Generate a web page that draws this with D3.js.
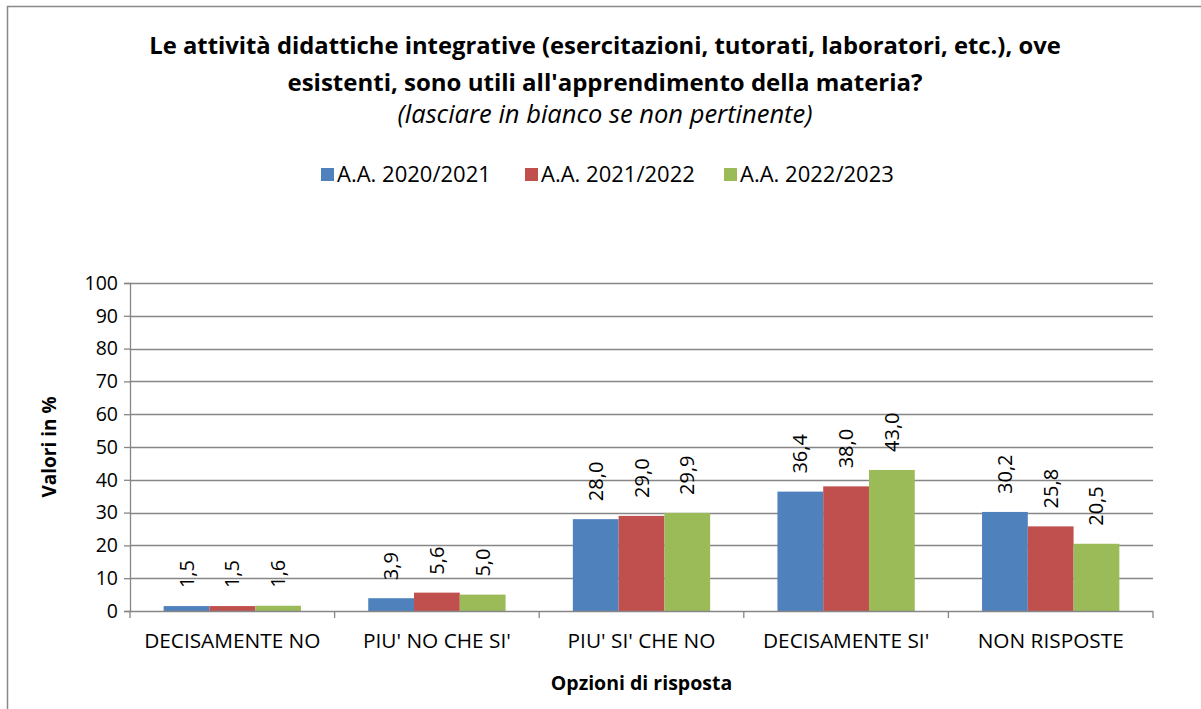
<!DOCTYPE html>
<html>
<head>
<meta charset="utf-8">
<script src="https://cdn.jsdelivr.net/npm/d3@7"></script>
<style>
  body { margin:0; background:#fff; }
  svg text { font-family: "Open Sans", sans-serif; fill:#000; }
</style>
</head>
<body>
<div id="chart"></div>
<script>
const categories = ["DECISAMENTE NO", "PIU' NO CHE SI'", "PIU' SI' CHE NO", "DECISAMENTE SI'", "NON RISPOSTE"];
const seriesNames = ["A.A. 2020/2021", "A.A. 2021/2022", "A.A. 2022/2023"];
const values2021 = [1.5, 3.9, 28.0, 36.4, 30.2];
const values2022 = [1.5, 5.6, 29.0, 38.0, 25.8];
const values2023 = [1.6, 5.0, 29.9, 43.0, 20.5];
const yTicks = [0, 10, 20, 30, 40, 50, 60, 70, 80, 90, 100];
const colors = ["#4F81BD", "#C0504D", "#9BBB59"];

const W = 1201, H = 709;
const plot = {left:130, right:1153, top:283, bottom:611};
const fontFam = '"Open Sans", sans-serif';

const svg = d3.select("#chart").append("svg")
  .attr("width", W).attr("height", H);

svg.append("rect")
  .attr("x", 7.5).attr("y", 6.5)
  .attr("width", W).attr("height", H)
  .attr("fill", "#fff").attr("stroke", "#898989").attr("stroke-width", 1.5);

// titles
svg.append("text").attr("x", 605).attr("y", 54).attr("text-anchor", "middle")
  .style("font-size", "23.8px").style("font-weight", "bold")
  .text("Le attività didattiche integrative (esercitazioni, tutorati, laboratori, etc.), ove");
svg.append("text").attr("x", 605).attr("y", 91).attr("text-anchor", "middle")
  .style("font-size", "24px").style("font-weight", "bold")
  .text("esistenti, sono utili all'apprendimento della materia?");
svg.append("text").attr("x", 605).attr("y", 123).attr("text-anchor", "middle")
  .style("font-size", "25.5px").style("font-style", "italic")
  .text("(lasciare in bianco se non pertinente)");

// legend
const legendX = [321, 525, 724];
const legend = svg.append("g");
seriesNames.forEach((name, i) => {
  legend.append("rect").attr("x", legendX[i]).attr("y", 168)
    .attr("width", 13).attr("height", 13).attr("fill", colors[i]);
  legend.append("text").attr("x", legendX[i] + 16).attr("y", 182)
    .style("font-size", "22px").text(name);
});

const x0 = d3.scaleBand().domain(categories).range([plot.left, plot.right]).paddingInner(0).paddingOuter(0);
const x1 = d3.scaleBand().domain(seriesNames).range([0, x0.bandwidth()]).paddingOuter(0.735).paddingInner(0);
const y = d3.scaleLinear().domain([0, 100]).range([plot.bottom, plot.top]);

// gridlines
svg.append("g").selectAll("line").data(yTicks.filter(d => d > 0)).enter().append("line")
  .attr("x1", plot.left).attr("x2", plot.right)
  .attr("y1", d => Math.round(y(d)) + 0.5).attr("y2", d => Math.round(y(d)) + 0.5)
  .attr("stroke", "#868686").attr("stroke-width", 1.3);

// y axis
const yAxis = svg.append("g").attr("transform", `translate(${plot.left},0)`)
  .call(d3.axisLeft(y).tickValues(yTicks).tickSize(6).tickPadding(6));
yAxis.select(".domain").attr("stroke", "#868686").attr("stroke-width", 1.3);
yAxis.selectAll(".tick line").attr("stroke", "#868686").attr("stroke-width", 1.3);
yAxis.selectAll(".tick text").style("font-size", "19.5px").style("font-family", fontFam);

svg.append("text").attr("transform", `translate(56,${(plot.top + plot.bottom) / 2}) rotate(-90)`)
  .attr("text-anchor", "middle").style("font-size", "19px").style("font-weight", "bold")
  .text("Valori in %");

// bars
const seriesValues = [values2021, values2022, values2023];
const groups = svg.append("g").selectAll("g").data(categories).enter().append("g")
  .attr("transform", d => `translate(${x0(d)},0)`);

groups.selectAll("rect").data((c, ci) => seriesNames.map((s, si) => ({s, si, v: seriesValues[si][ci]})))
  .enter().append("rect")
  .attr("x", d => x1(d.s)).attr("width", x1.bandwidth())
  .attr("y", d => y(d.v)).attr("height", d => y(0) - y(d.v))
  .attr("fill", d => colors[d.si]);

groups.selectAll("text.val").data((c, ci) => seriesNames.map((s, si) => ({s, si, v: seriesValues[si][ci]})))
  .enter().append("text").attr("class", "val")
  .attr("transform", d => `translate(${x1(d.s) + x1.bandwidth() / 2 + 7},${y(d.v) - 18}) rotate(-90)`)
  .style("font-size", "20px")
  .text(d => d.v.toFixed(1).replace(".", ","));

// x axis
const xAxis = svg.append("g").attr("transform", `translate(0,${plot.bottom})`)
  .call(d3.axisBottom(x0).tickSize(0).tickPadding(22));
xAxis.select(".domain").remove();
xAxis.selectAll(".tick text").style("font-size", "20.8px").style("font-family", fontFam);
svg.append("line").attr("x1", plot.left).attr("x2", plot.right)
  .attr("y1", plot.bottom + 0.5).attr("y2", plot.bottom + 0.5)
  .attr("stroke", "#868686").attr("stroke-width", 1.3);
svg.append("g").selectAll("line").data(d3.range(categories.length + 1)).enter().append("line")
  .attr("x1", i => plot.left + i * x0.bandwidth()).attr("x2", i => plot.left + i * x0.bandwidth())
  .attr("y1", plot.bottom).attr("y2", plot.bottom + 7)
  .attr("stroke", "#868686").attr("stroke-width", 1.3);

svg.append("text").attr("x", (plot.left + plot.right) / 2).attr("y", 690)
  .attr("text-anchor", "middle").style("font-size", "19.5px").style("font-weight", "bold")
  .text("Opzioni di risposta");
</script>
</body>
</html>
